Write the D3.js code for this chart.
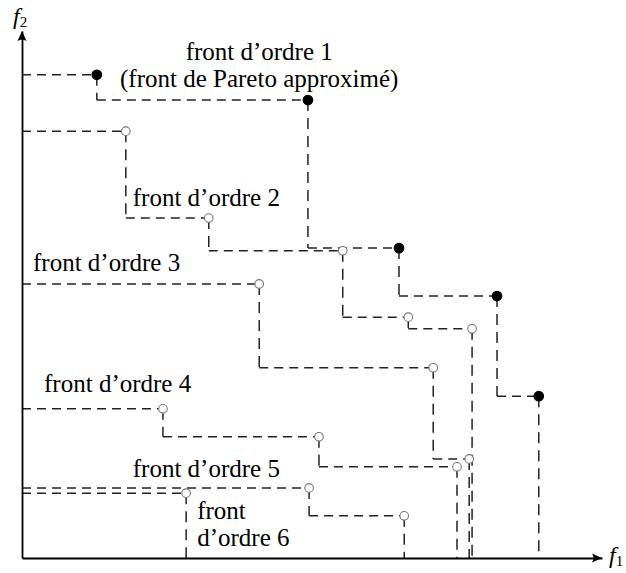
<!DOCTYPE html>
<html>
  <head>
    <meta charset="utf-8">
    <script src="https://d3js.org/d3.v7.min.js" charset="utf-8"></script>
    <style>
    body {
      margin: 0;
      background-color: #fff;
    }
    text {
      font-family: "Liberation Serif", "DejaVu Serif", serif;
      fill: #000;
    }
    .axis path {
      stroke: #000;
      stroke-width: 1.8;
    }
    .seg {
      stroke: #222;
      stroke-width: 1.5;
      fill: none;
    }
    </style>
    <title>Fronts de Pareto</title>
  </head>
  <body>
    <div class="chart"></div>
    <script>

      // fronts: values of f1 and f2 (arbitrary units 0..10)
      var front1F1 = [1.29, 4.93, 6.50, 8.19, 8.91];
      var front1F2 = [9.17, 8.69, 5.88, 4.97, 3.07];

      var front2F1 = [1.79, 3.22, 5.53, 6.66, 7.76];
      var front2F2 = [8.10, 6.45, 5.83, 4.57, 4.35];

      var front3F1 = [4.09, 7.09, 7.71];
      var front3F2 = [5.20, 3.61, 1.88];

      var front4F1 = [2.43, 5.12, 7.50];
      var front4F2 = [2.83, 2.30, 1.73];

      var front5F1 = [4.95, 6.59];
      var front5F2 = [1.33, 0.80];

      var front6F1 = [2.83];
      var front6F2 = [1.23];

      var labelTexts = ["front d’ordre 1", "(front de Pareto approximé)", "front d’ordre 2",
                        "front d’ordre 3", "front d’ordre 4", "front d’ordre 5",
                        "front", "d’ordre 6"];
      var labelF1 = [4.09, 4.09, 1.91, 0.19, 0.38, 1.91, 3.02, 3.02];
      var labelF2 = [9.45, 8.94, 6.68, 5.45, 3.15, 1.54, 0.74, 0.23];
      var labelAnchor = ["middle", "middle", "start", "start", "start", "start", "start", "start"];

      var width = 626;
      var height = 573;

      var svg = d3.select('.chart').append('svg')
          .attr('width', width)
          .attr('height', height);

      var x = d3.scaleLinear().domain([0, 10]).range([22, 602]);
      var y = d3.scaleLinear().domain([0, 10]).range([558, 31]);

      var fronts = [
        {f1: front1F1, f2: front1F2, best: true},
        {f1: front2F1, f2: front2F2, best: false},
        {f1: front3F1, f2: front3F2, best: false},
        {f1: front4F1, f2: front4F2, best: false},
        {f1: front5F1, f2: front5F2, best: false},
        {f1: front6F1, f2: front6F2, best: false}
      ];

      // staircase segments of every front
      var segs = svg.append('g');
      fronts.forEach(function(fr) {
        var n = fr.f1.length;
        var parts = [];
        parts.push({x1: 0, y1: fr.f2[0], x2: fr.f1[0], y2: fr.f2[0], h: true});
        for (var i = 0; i < n; i++) {
          var yNext = i < n - 1 ? fr.f2[i + 1] : 0;
          parts.push({x1: fr.f1[i], y1: fr.f2[i], x2: fr.f1[i], y2: yNext, h: false});
          if (i < n - 1) {
            parts.push({x1: fr.f1[i], y1: yNext, x2: fr.f1[i + 1], y2: yNext, h: true});
          }
        }
        segs.selectAll(null)
          .data(parts)
          .enter().append('line')
            .attr('class', 'seg')
            .attr('x1', function(d) { return x(d.x1); })
            .attr('y1', function(d) { return y(d.y1); })
            .attr('x2', function(d) { return x(d.x2); })
            .attr('y2', function(d) { return y(d.y2); })
            .attr('stroke-dasharray', function(d) { return d.h ? '9,6' : '11,7'; });
      });

      // axes, no ticks
      svg.append('g')
          .attr('class', 'axis')
          .attr('transform', 'translate(0,' + y(0) + ')')
          .call(d3.axisBottom(x).tickValues([]).tickSizeOuter(0));

      svg.append('g')
          .attr('class', 'axis')
          .attr('transform', 'translate(' + x(0) + ',0)')
          .call(d3.axisLeft(y).tickValues([]).tickSizeOuter(0));

      // arrow heads
      var xe = x.range()[1], ye = y.range()[1];
      svg.append('path')
          .attr('d', 'M' + xe + ',' + y(0) + ' l-10,-4.5 q3,4.5 0,9 z')
          .attr('fill', '#000');
      svg.append('path')
          .attr('d', 'M' + x(0) + ',' + ye + ' l-4.5,10 q4.5,-3 9,0 z')
          .attr('fill', '#000');

      // points
      var pts = svg.append('g');
      fronts.forEach(function(fr) {
        pts.selectAll(null)
          .data(fr.f1.map(function(v, i) { return [v, fr.f2[i]]; }))
          .enter().append('circle')
            .attr('cx', function(d) { return x(d[0]); })
            .attr('cy', function(d) { return y(d[1]); })
            .attr('r', fr.best ? 4.8 : 4.3)
            .attr('fill', fr.best ? '#000' : '#fff')
            .attr('stroke', fr.best ? '#000' : '#777')
            .attr('stroke-width', 1.1);
      });

      // labels
      svg.append('g')
        .selectAll('text')
        .data(labelTexts)
        .enter().append('text')
          .attr('x', function(d, i) { return x(labelF1[i]); })
          .attr('y', function(d, i) { return y(labelF2[i]); })
          .attr('text-anchor', function(d, i) { return labelAnchor[i]; })
          .attr('font-size', 25)
          .text(function(d) { return d; });

      // axis names
      var f2 = svg.append('text').attr('x', 13).attr('y', 24).attr('font-size', 24);
      f2.append('tspan').attr('font-style', 'italic').text('f');
      f2.append('tspan').attr('font-size', 15).attr('dy', 3).text('2');

      var f1 = svg.append('text').attr('x', 609).attr('y', 563).attr('font-size', 24);
      f1.append('tspan').attr('font-style', 'italic').text('f');
      f1.append('tspan').attr('font-size', 15).attr('dy', 3).text('1');

    </script>
  </body>
</html>
